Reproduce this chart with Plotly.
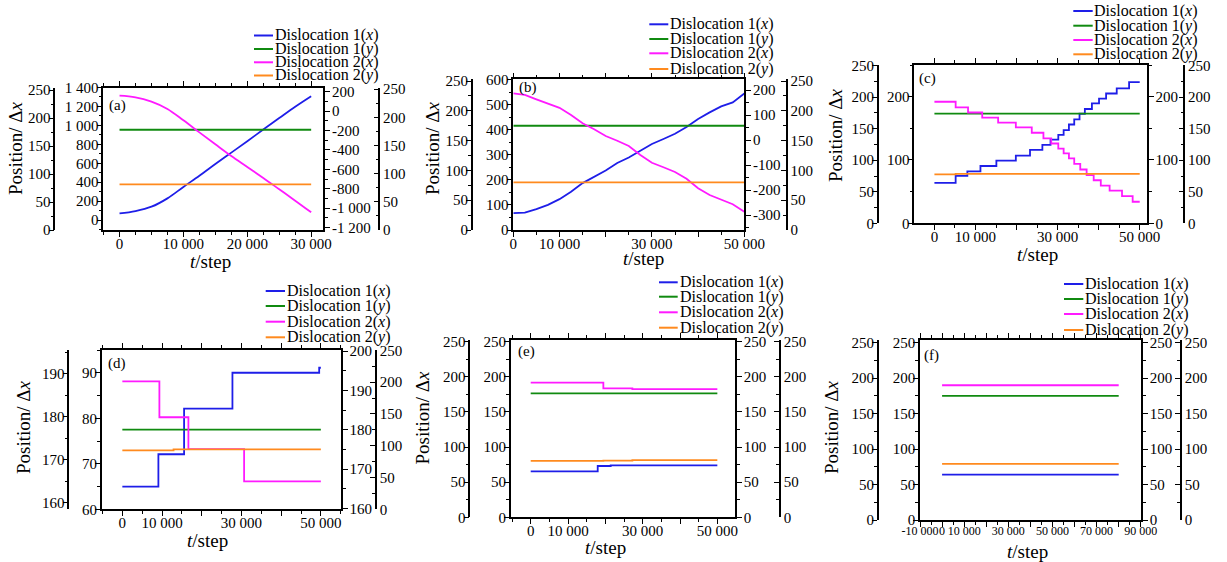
import plotly.graph_objects as go

W, H = 1227, 562
FONT = "Liberation Serif, Times New Roman, serif"

# ---------------- data ----------------
SERIES_NAMES = ["Dislocation 1(<i>x</i>)", "Dislocation 1(<i>y</i>)",
                "Dislocation 2(<i>x</i>)", "Dislocation 2(<i>y</i>)"]
COLORS = ["#1e1ee8", "#108a10", "#ff1aff", "#ff8a1e"]

# (a)
A_T = [0, 2500, 5000, 7500, 10000, 12500, 15000, 17500, 20000, 22500, 25000, 27500, 30000]
A_D1X = [70, 95, 141, 229, 350, 468, 591, 712, 833, 956, 1077, 1197, 1308]
A_D2X = [159, 142, 97, 22, -95, -219, -342, -463, -575, -688, -805, -922, -1042]
A_TY = [0, 30000]
A_D1Y = [179, 179]
A_D2Y = [81, 81]

# (b)
B_T = [0, 2500, 5000, 7500, 10000, 12500, 15000, 17500, 20000, 22500, 25000,
       27500, 30000, 32500, 35000, 37500, 40000, 42500, 45000, 47500, 50000]
B_D1X = [67, 69, 83, 100, 123, 153, 187, 213, 237, 267, 289, 316, 343, 363, 384,
         411, 443, 469, 493, 509, 544]
B_D2X = [187, 181, 163, 147, 129, 100, 67, 43, 16, -3, -24, -60, -91, -109, -128,
         -155, -193, -220, -240, -257, -287]
B_TY = [0, 50000]
B_D1Y = [175, 175]
B_D2Y = [80, 80]

# (c)  step series: change times and levels
C_D1X_T = [0, 5170, 8020, 11210, 15090, 19830, 23280, 26290, 28280, 30170, 31470,
           32760, 34050, 35340, 36640, 38360, 40090, 41810, 44400, 47410, 50000]
C_D1X = [64, 75, 82, 90.5, 99, 107, 116, 124, 132, 139.5, 147, 156, 164, 173, 180.5,
         189.5, 197, 205, 213, 223, 223]
C_D2X_T = [0, 5170, 8190, 11640, 15520, 19830, 23710, 26550, 28450, 30170, 31470,
           32760, 34050, 35520, 37070, 38790, 40520, 42670, 45690, 48280, 50000]
C_D2X = [192, 183, 175, 167, 159, 151.5, 143, 134, 126, 118, 110.5, 102.5, 94, 85,
         76, 68, 59.5, 51.5, 43, 34, 34]
C_D1Y_T = [0, 50000]
C_D1Y = [174, 174]
C_D2Y_T = [0, 5170, 50000]
C_D2Y = [77.5, 78.5, 78.5]

# (d)
D_D1X_T = [0, 9080, 15550, 27730, 49580, 50000]
D_D1X = [65, 72.1, 82.1, 90, 91.1, 91.1]
D_D2X_T = [0, 9330, 16640, 30670, 50000]
D_D2X = [192.3, 183.2, 175.1, 166.9, 166.9]
D_D1Y_T = [0, 50000]
D_D1Y = [177, 177]
D_D2Y_T = [0, 12900, 50000]
D_D2Y = [92.7, 94.3, 94.3]

# (e)
E_D1X_T = [0, 17950, 21430, 50000]
E_D1X = [65.5, 73, 74, 74]
E_D2X_T = [0, 19460, 27230, 50000]
E_D2X = [191.6, 183.6, 182.6, 182.6]
E_D1Y_T = [0, 50000]
E_D1Y = [176.5, 176.5]
E_D2Y_T = [0, 19460, 27230, 50000]
E_D2Y = [80.2, 80.6, 81.4, 81.4]

# (f)
F_T = [0, 80000]
F_D1X = [64, 64]
F_D1Y = [175, 175]
F_D2X = [190, 190]
F_D2Y = [79, 79]

# x tick labels
X_TICKS_A = [0, 10000, 20000, 30000]
X_TICKS_BE = [0, 10000, 20000, 30000, 40000, 50000]
X_LABELED_BE = [0, 10000, 30000, 50000]
X_TICKS_F = [-10000, 0, 10000, 20000, 30000, 40000, 50000, 60000, 70000, 80000, 90000]
X_LABELED_F = [-10000, 0, 10000, 30000, 50000, 70000, 90000]


def fmt(v):
    return f"{int(v):,}".replace(",", " ")


def rng(a, b, s):
    out, v = [], a
    while v <= b + 1e-9:
        out.append(v)
        v += s
    return out


# ---------------- panel configuration ----------------
# y-axis order: LO (outer left, D1y), LI (inner left, D1x), RI (inner right, D2x), RO (outer right, D2y)
panels = [
    dict(label="(a)",
         series=[(A_T, A_D1X), (A_TY, A_D1Y), (A_T, A_D2X), (A_TY, A_D2Y)], shape="spline",
         box=(103.3, 323.3, 87.5, 230), lo=54.3, ro=379.3,
         xr=[-2540, 31900], xt=X_TICKS_A, xl=X_TICKS_A, xm=2500, xfs=15,
         ys=dict(LO=([0, 254.5], rng(0, 250, 50), 25), LI=([-105, 1400], rng(0, 1400, 200), 100),
                 RI=([-1224, 243], rng(-1200, 200, 200), 100), RO=([0, 253], rng(0, 250, 50), 25)),
         ytitle=(15, 148), xtitle=(211, 262), lab=(107, 106),
         leg=(254, 273, 274, [35.5, 49, 62.3, 75.5])),
    dict(label="(b)",
         series=[(B_T, B_D1X), (B_TY, B_D1Y), (B_T, B_D2X), (B_TY, B_D2Y)], shape="linear",
         box=(513.3, 744.3, 79.3, 230), lo=471.7, ro=786.7,
         xr=[0, 50000], xt=X_TICKS_BE, xl=X_LABELED_BE, xm=5000, xfs=15,
         ys=dict(LO=([0, 253], rng(0, 250, 50), 25), LI=([0, 601], rng(0, 600, 100), 50),
                 RI=([-360, 243], rng(-300, 200, 100), 50), RO=([0, 253], rng(0, 250, 50), 25)),
         ytitle=(432, 148), xtitle=(643, 258), lab=(516.7, 87),
         leg=(649.3, 668.3, 669.3, [24.3, 39, 53.3, 69])),
    dict(label="(c)",
         series=[(C_D1X_T, C_D1X), (C_D1Y_T, C_D1Y), (C_D2X_T, C_D2X), (C_D2Y_T, C_D2Y)], shape="hv",
         box=(914.3, 1146.7, 65, 223.3), lo=877.7, ro=1184.3,
         xr=[-4900, 51700], xt=X_TICKS_BE, xl=X_LABELED_BE, xm=5000, xfs=15,
         ys=dict(LO=([0, 251], rng(0, 250, 50), 25), LI=([0, 250], rng(0, 200, 100), 50),
                 RI=([0, 250], rng(0, 200, 100), 50), RO=([0, 251], rng(0, 250, 50), 25)),
         ytitle=(835, 135), xtitle=(1037, 254), lab=(916.7, 78),
         leg=(1073.3, 1092.7, 1093.3, [11, 25.7, 40, 54.3])),
    dict(label="(d)",
         series=[(D_D1X_T, D_D1X), (D_D1Y_T, D_D1Y), (D_D2X_T, D_D2X), (D_D2Y_T, D_D2Y)], shape="hv",
         box=(101.7, 340.7, 350, 509.3), lo=68.3, ro=376,
         xr=[-5200, 55000], xt=X_TICKS_BE, xl=X_LABELED_BE, xm=5000, xfs=15,
         ys=dict(LO=([158.4, 195.6], rng(160, 190, 10), 5), LI=([60, 95], rng(60, 90, 10), 5),
                 RI=([159.8, 200.3], rng(160, 200, 10), 5), RO=([0, 250.5], rng(0, 250, 50), 25)),
         ytitle=(23, 427), xtitle=(207, 540), lab=(106, 363),
         leg=(265.7, 285, 286, [291, 306, 321.7, 337.3])),
    dict(label="(e)",
         series=[(E_D1X_T, E_D1X), (E_D1Y_T, E_D1Y), (E_D2X_T, E_D2X), (E_D2Y_T, E_D2Y)], shape="hv",
         box=(510.7, 735, 340, 517.3), lo=469.3, ro=780,
         xr=[-5360, 54730], xt=X_TICKS_BE, xl=X_LABELED_BE, xm=5000, xfs=15,
         ys=dict(LO=([0, 252.4], rng(0, 250, 50), 25), LI=([0, 252.4], rng(0, 250, 50), 25),
                 RI=([0, 252.4], rng(0, 250, 50), 25), RO=([0, 252.4], rng(0, 250, 50), 25)),
         ytitle=(421.5, 418), xtitle=(605, 547), lab=(516, 351.7),
         leg=(659, 677.7, 678.7, [282.3, 296.7, 312.3, 327.7])),
    dict(label="(f)",
         series=[(F_T, F_D1X), (F_T, F_D1Y), (F_T, F_D2X), (F_T, F_D2Y)], shape="linear",
         box=(920, 1141, 340, 520), lo=877.7, ro=1181,
         xr=[-10000, 90100], xt=X_TICKS_F, xl=X_LABELED_F, xm=5000, xfs=12,
         ys=dict(LO=([0, 253.8], rng(0, 250, 50), 25), LI=([0, 253.8], rng(0, 250, 50), 25),
                 RI=([0, 253.8], rng(0, 250, 50), 25), RO=([0, 253.8], rng(0, 250, 50), 25)),
         ytitle=(831, 427), xtitle=(1027, 551), lab=(921.7, 355),
         leg=(1064, 1083.3, 1084, [284, 299, 314, 330])),
]


def fx(x):
    return x / W


def fy(y):
    return 1 - y / H


TICKFONT = dict(family=FONT, size=15, color="black")
AX = dict(showline=True, linecolor="black", linewidth=1.6, showgrid=False, zeroline=False,
          ticklen=5, tickwidth=1.3, tickcolor="black", tickfont=TICKFONT, automargin=False,
          tickmode="array")
STANDOFF = dict(LO=-5, LI=-5, RI=-1, RO=0)

fig = go.Figure()
layout = dict(width=W, height=H, margin=dict(l=0, r=0, t=0, b=0),
              paper_bgcolor="white", plot_bgcolor="white", showlegend=False,
              font=dict(family=FONT, color="black"))
annotations, shapes = [], []

for p, P in enumerate(panels):
    xn = p + 1
    xname = "x" if xn == 1 else f"x{xn}"
    yids = [4 * p + 2, 4 * p + 1, 4 * p + 3, 4 * p + 4]  # LO, LI, RI, RO
    ynames = ["y" if i == 1 else f"y{i}" for i in yids]
    main_y = ynames[1]
    x0, x1, ytop, ybot = P["box"]

    # x axis
    layout["xaxis" if xn == 1 else f"xaxis{xn}"] = dict(
        AX, domain=[fx(x0), fx(x1)], anchor=main_y, range=P["xr"],
        tickvals=P["xt"], ticktext=[fmt(v) if v in P["xl"] else "" for v in P["xt"]],
        ticks="outside", mirror="ticks", tickangle=0, ticklabelstandoff=-6,
        tickfont=dict(family=FONT, size=P["xfs"], color="black"),
        minor=dict(dtick=P["xm"], tick0=0, ticks="outside", ticklen=3, tickwidth=1,
                   tickcolor="black", showgrid=False))

    roles = ["LO", "LI", "RI", "RO"]
    for k, role in enumerate(roles):
        r, tv, mn = P["ys"][role]
        d = dict(AX, range=r, tickvals=tv, ticktext=[fmt(v) for v in tv],
                 ticklabelstandoff=STANDOFF[role])
        tdir = "outside"
        if role == "LI":
            d.update(domain=[fy(ybot), fy(ytop)], anchor=xname, side="left")
        elif role == "LO":
            d.update(overlaying=main_y, anchor="free", position=fx(P["lo"]), side="left")
        elif role == "RI":
            d.update(overlaying=main_y, anchor=xname, side="right")
        else:
            tdir = "inside"
            d.update(overlaying=main_y, anchor="free", position=fx(P["ro"]), side="right")
        d.update(ticks=tdir, minor=dict(dtick=mn, tick0=0, ticks=tdir, ticklen=3, tickwidth=1,
                                         tickcolor="black", showgrid=False))
        idx = yids[k]
        layout["yaxis" if idx == 1 else f"yaxis{idx}"] = d

    # traces: D1x->LI, D1y->LO, D2x->RI, D2y->RO
    role_axis = [ynames[1], ynames[0], ynames[2], ynames[3]]
    for s, (tx, vy) in enumerate(P["series"]):
        shp = P["shape"]
        if s in (1, 3) and shp == "spline":
            shp = "linear"
        fig.add_trace(go.Scatter(x=tx, y=vy, mode="lines", name=SERIES_NAMES[s],
                                 line=dict(color=COLORS[s], width=1.8, shape=shp),
                                 xaxis=xname, yaxis=role_axis[s], hoverinfo="skip"))

    # axis titles
    annotations.append(dict(text="Position/ Δ<i>x</i>", textangle=-90, showarrow=False,
                            xref="paper", yref="paper", x=fx(P["ytitle"][0]), y=fy(P["ytitle"][1]),
                            xanchor="center", yanchor="middle",
                            font=dict(family=FONT, size=19, color="black")))
    annotations.append(dict(text="<i>t</i>/step", showarrow=False,
                            xref="paper", yref="paper", x=fx(P["xtitle"][0]), y=fy(P["xtitle"][1]),
                            xanchor="center", yanchor="middle",
                            font=dict(family=FONT, size=19, color="black")))
    annotations.append(dict(text=P["label"], showarrow=False,
                            xref="paper", yref="paper", x=fx(P["lab"][0]), y=fy(P["lab"][1]),
                            xanchor="left", yanchor="middle",
                            font=dict(family=FONT, size=15, color="black")))
    # legend
    lx0, lx1, tx0, rows = P["leg"]
    for s, ry in enumerate(rows):
        shapes.append(dict(type="line", xref="paper", yref="paper", x0=fx(lx0), x1=fx(lx1),
                           y0=fy(ry), y1=fy(ry), line=dict(color=COLORS[s], width=2)))
        annotations.append(dict(text=SERIES_NAMES[s], showarrow=False, xref="paper", yref="paper",
                                x=fx(tx0), y=fy(ry), xanchor="left", yanchor="middle",
                                borderpad=0, font=dict(family=FONT, size=16, color="black")))

layout["annotations"] = annotations
layout["shapes"] = shapes
fig.update_layout(**layout)
fig.write_html("out.html", config={"displayModeBar": False},
               post_script="document.body.style.margin='0px';")
